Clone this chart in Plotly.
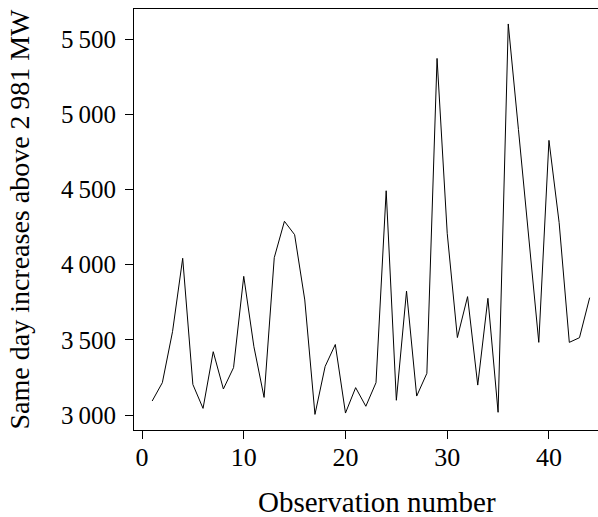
import plotly.graph_objects as go

obs = list(range(1, 45))
values = [3093, 3215, 3554, 4042, 3203, 3044, 3421, 3173, 3315, 3922,
          3454, 3117, 4046, 4288, 4199, 3765, 3004, 3323, 3469, 3013,
          3182, 3058, 3215, 4491, 3098, 3824, 3126, 3277, 5371, 4208,
          3515, 3787, 3199, 3776, 3018, 5600, 4898, 4197, 3483, 4826,
          4279, 3483, 3514, 3780]

ytick_vals = [3000, 3500, 4000, 4500, 5000, 5500]
ytick_text = ["3\u2009000", "3\u2009500", "4\u2009000", "4\u2009500", "5\u2009000", "5\u2009500"]
xtick_vals = [0, 10, 20, 30, 40]
xtick_text = ["0", "10", "20", "30", "40"]

x_title = "Observation number"
y_title = "Same day increases above 2\u2009981 MW"

FONT = "'Liberation Serif', 'Times New Roman', 'DejaVu Serif', serif"

fig = go.Figure()
fig.add_trace(go.Scatter(x=obs, y=values, mode="lines",
                         line=dict(color="black", width=1), showlegend=False,
                         hoverinfo="skip"))

fig.update_layout(
    width=598, height=517,
    margin=dict(l=134, r=0, t=9, b=87),
    paper_bgcolor="white", plot_bgcolor="white",
    font=dict(family=FONT, size=25, color="black"),
    xaxis=dict(range=[-0.786, 44.82], tickvals=xtick_vals, ticktext=xtick_text,
               ticks="outside", ticklen=8, tickwidth=1, tickcolor="black",
               showline=True, linecolor="black", linewidth=1, mirror=True,
               showgrid=False, zeroline=False, ticklabelstandoff=-4,
               tickfont=dict(family=FONT, size=26)),
    yaxis=dict(range=[2900.3, 5699.5], tickvals=ytick_vals, ticktext=ytick_text,
               ticks="outside", ticklen=8, tickwidth=1, tickcolor="black",
               showline=True, linecolor="black", linewidth=1, mirror=False,
               showgrid=False, zeroline=False, ticklabelstandoff=4,
               tickfont=dict(family=FONT, size=25)),
    annotations=[
        dict(text=x_title, xref="paper", yref="paper", x=(377 - 134) / 464,
             y=(430 - 502) / 421, xanchor="center", yanchor="middle",
             showarrow=False, font=dict(family=FONT, size=29)),
        dict(text=y_title, xref="paper", yref="paper", x=(19 - 134) / 464,
             y=0.5, xanchor="center", yanchor="middle", textangle=-90,
             showarrow=False, font=dict(family=FONT, size=28)),
    ],
)

fig.write_html("out.html")
